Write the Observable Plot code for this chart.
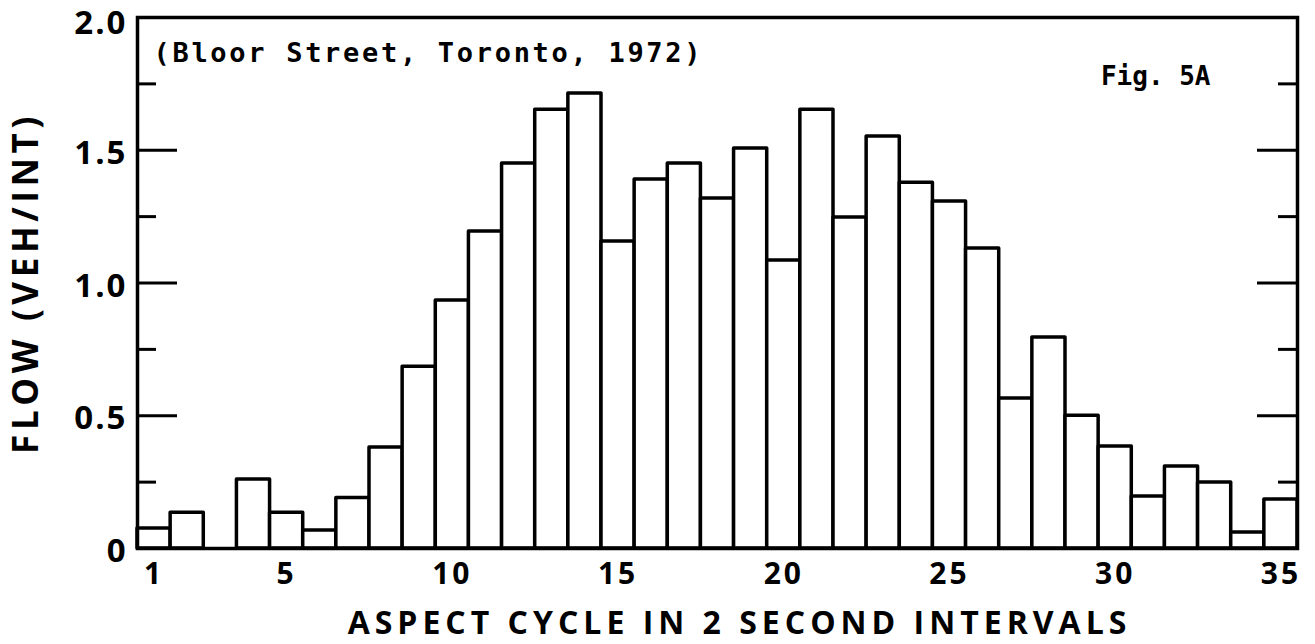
<!DOCTYPE html>
<html>
<head>
<meta charset="utf-8">
<script src="https://cdn.jsdelivr.net/npm/d3@7"></script>
<script src="https://cdn.jsdelivr.net/npm/@observablehq/plot@0.6"></script>
<style>
  html, body { margin: 0; padding: 0; background: #fff; }
  #chart svg [aria-label="x-axis tick label"] text { letter-spacing: 3px; }
  #chart svg [aria-label="y-axis tick label"] text { letter-spacing: 2px; }
  .mono { letter-spacing: 2.7px; }
  .xtitle { letter-spacing: 5px; }
  .ytitle { letter-spacing: 4.6px; }
</style>
</head>
<body>
<div id="chart"></div>
<script>
// Aspect cycle intervals (2-second) and flow (veh/int)
const intervals = d3.range(1, 36);
const flow = [
  0.075, 0.135, 0.0, 0.26, 0.135, 0.068, 0.19, 0.38, 0.685, 0.934,
  1.194, 1.45, 1.653, 1.714, 1.156, 1.39, 1.45, 1.318, 1.507, 1.085,
  1.653, 1.247, 1.552, 1.378, 1.307, 1.13, 0.565, 0.795, 0.50, 0.384,
  0.196, 0.309, 0.249, 0.06, 0.185
];
const xTicks = [1, 5, 10, 15, 20, 25, 30, 35];
const yLabelTicks = [0, 0.5, 1.0, 1.5];
const yTopTick = [2.0];
const yMajorTicks = [0.5, 1.0, 1.5];
const yMinorTicks = [0.25, 0.75, 1.25, 1.75];
const annotation = "(Bloor Street, Toronto, 1972)";
const figLabel = "Fig. 5A";
const xTitle = "ASPECT CYCLE IN 2 SECOND INTERVALS";
const yTitle = "FLOW (VEH/INT)";

const data = intervals.map((k, i) => ({k, v: flow[i]}));

const W = 1315, H = 644;
const mL = 137, mR = 18, mT = 17, mB = 96;
const innerW = W - mL - mR;
const majorLen = 40, minorLen = 19;
const lettering = "'Open Sans', 'DejaVu Sans', sans-serif";
const mono = "'DejaVu Sans Mono', 'Liberation Mono', monospace";
const yFmt = d => d === 0 ? "0" : d.toFixed(1);

const chart = Plot.plot({
  width: W,
  height: H,
  marginLeft: mL,
  marginRight: mR,
  marginTop: mT,
  marginBottom: mB,
  style: {background: "#fff", color: "#000"},
  x: {domain: [0.5, 35.5]},
  y: {domain: [0, 2]},
  marks: [
    Plot.rectY(data, {
      x1: d => d.k - 0.5, x2: d => d.k + 0.5, y: "v",
      fill: "#fff", stroke: "#000", strokeWidth: 3.5, strokeLinejoin: "round"
    }),
    // inward ticks, left side
    Plot.ruleY(yMajorTicks, {stroke: "#000", strokeWidth: 3, insetRight: innerW - majorLen}),
    Plot.ruleY(yMinorTicks, {stroke: "#000", strokeWidth: 3, insetRight: innerW - minorLen}),
    // inward ticks, right side
    Plot.ruleY(yMajorTicks, {stroke: "#000", strokeWidth: 3, insetLeft: innerW - majorLen}),
    Plot.ruleY(yMinorTicks, {stroke: "#000", strokeWidth: 3, insetLeft: innerW - minorLen}),
    Plot.frame({stroke: "#000", strokeWidth: 3.5}),
    Plot.axisX({
      ticks: xTicks, tickSize: 0, tickPadding: 14, label: null,
      fontSize: 30, fontWeight: 700, fontFamily: lettering,
      tickFormat: d => String(d)
    }),
    Plot.axisY({
      ticks: yLabelTicks, tickSize: 0, tickPadding: 10, label: null, dy: 3,
      fontSize: 33, fontWeight: 700, fontFamily: lettering, tickFormat: yFmt
    }),
    Plot.axisY({
      ticks: yTopTick, tickSize: 0, tickPadding: 10, label: null, dy: 6,
      fontSize: 33, fontWeight: 700, fontFamily: lettering, tickFormat: yFmt
    }),
    Plot.text([annotation], {
      frameAnchor: "top-left", dx: 16, dy: 25, text: d => d,
      fontSize: 27, fontFamily: mono, fontWeight: 700,
      textAnchor: "start", lineAnchor: "top", className: "mono"
    }),
    Plot.text([figLabel], {
      frameAnchor: "top-right", dx: -87, dy: 49, text: d => d,
      fontSize: 26, fontFamily: mono, fontWeight: 700,
      textAnchor: "end", lineAnchor: "top"
    }),
    Plot.text([xTitle], {
      frameAnchor: "bottom", dx: 22, dy: 75, text: d => d,
      fontSize: 32, fontFamily: lettering, fontWeight: 700,
      textAnchor: "middle", lineAnchor: "middle", className: "xtitle"
    }),
    Plot.text([yTitle], {
      frameAnchor: "left", dx: -111, dy: 0, rotate: -90, text: d => d,
      fontSize: 35, fontFamily: lettering, fontWeight: 700,
      textAnchor: "middle", lineAnchor: "middle", className: "ytitle"
    })
  ]
});
document.getElementById("chart").appendChild(chart);
</script>
</body>
</html>
